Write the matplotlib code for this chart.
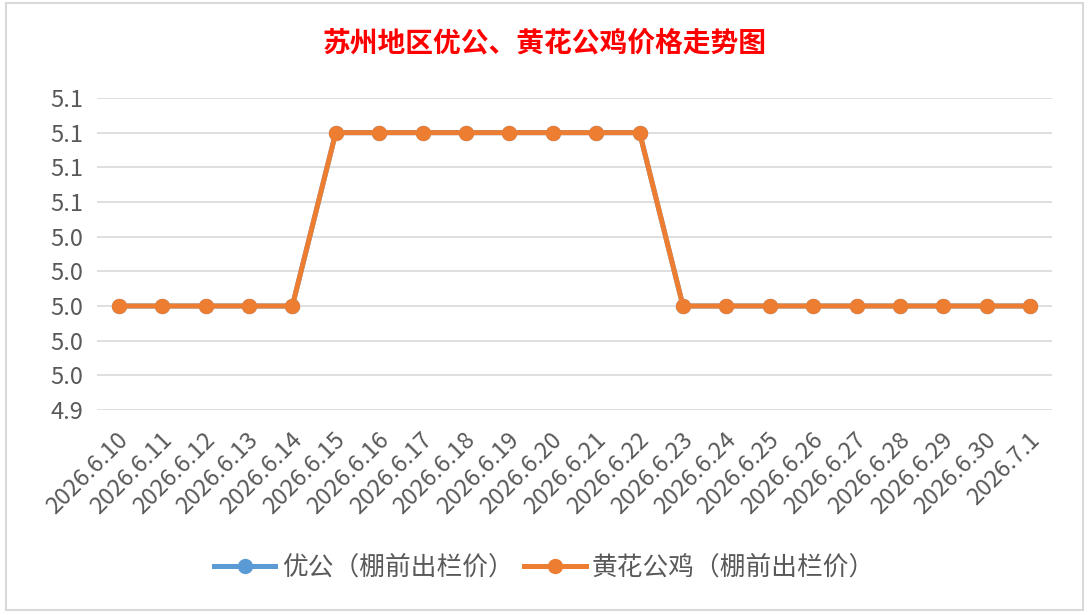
import matplotlib
matplotlib.use('Agg')
import matplotlib.pyplot as plt
from matplotlib.ticker import MultipleLocator, FormatStrFormatter
from matplotlib.patches import Rectangle
from matplotlib.transforms import ScaledTranslation

plt.rcParams['font.family'] = ['Noto Sans CJK SC', 'DejaVu Sans']

title = '苏州地区优公、黄花公鸡价格走势图'
dates = ['2026.6.10', '2026.6.11', '2026.6.12', '2026.6.13', '2026.6.14', '2026.6.15',
         '2026.6.16', '2026.6.17', '2026.6.18', '2026.6.19', '2026.6.20', '2026.6.21',
         '2026.6.22', '2026.6.23', '2026.6.24', '2026.6.25', '2026.6.26', '2026.6.27',
         '2026.6.28', '2026.6.29', '2026.6.30', '2026.7.1']
youGong = [5.0, 5.0, 5.0, 5.0, 5.0, 5.1, 5.1, 5.1, 5.1, 5.1, 5.1, 5.1,
           5.1, 5.0, 5.0, 5.0, 5.0, 5.0, 5.0, 5.0, 5.0, 5.0]
huangHua = [5.0, 5.0, 5.0, 5.0, 5.0, 5.1, 5.1, 5.1, 5.1, 5.1, 5.1, 5.1,
            5.1, 5.0, 5.0, 5.0, 5.0, 5.0, 5.0, 5.0, 5.0, 5.0]
names = ['优公（棚前出栏价）', '黄花公鸡（棚前出栏价）']

fig = plt.figure(figsize=(10.89, 6.15), dpi=100)
ax = fig.add_axes([97 / 1089, 1 - 410 / 615, (1052 - 97) / 1089, (410 - 98) / 615])

x = list(range(len(dates)))
ax.plot(x, youGong, color='#5B9BD5', lw=3.6, marker='o', ms=10, label=names[0], zorder=3)
ax.plot(x, huangHua, color='#ED7D31', lw=3.6, marker='o', ms=10, label=names[1], zorder=4)

ax.set_xlim(-0.5, len(dates) - 0.5)
ax.set_ylim(4.94, 5.12)
ax.yaxis.set_major_locator(MultipleLocator(0.02))
ax.yaxis.set_major_formatter(FormatStrFormatter('%.1f'))
ax.grid(axis='y', color='#D9D9D9', lw=1.2)
ax.set_axisbelow(True)
for s in ax.spines.values():
    s.set_visible(False)
ax.tick_params(length=0, colors='#595959')
ax.tick_params(axis='y', pad=10, labelsize=17)
ax.tick_params(axis='x', pad=19, labelsize=17)
ax.set_xticks(x)
ax.set_xticklabels(dates, rotation=45, ha='right', va='center', rotation_mode='anchor')
shift = ScaledTranslation(6 / 100, 0, fig.dpi_scale_trans)
for lbl in ax.get_xticklabels():
    lbl.set_transform(lbl.get_transform() + shift)

fig.text(0.5, 1 - 43 / 615, title, color='red', fontsize=20, fontweight='bold',
         ha='center', va='center')

fig.legend(loc='center', bbox_to_anchor=(0.5, 1 - 568 / 615), ncol=2, frameon=False,
           fontsize=18.5, handlelength=2.4, columnspacing=0.4, handletextpad=0.25,
           labelcolor='#595959')

fig.patches.append(Rectangle((6 / 1089, 1 - 610 / 615), 1077 / 1089, 607 / 615,
                             transform=fig.transFigure, fill=False, ec='#D9D9D9', lw=1.5))

fig.savefig('out.png', dpi=100)
